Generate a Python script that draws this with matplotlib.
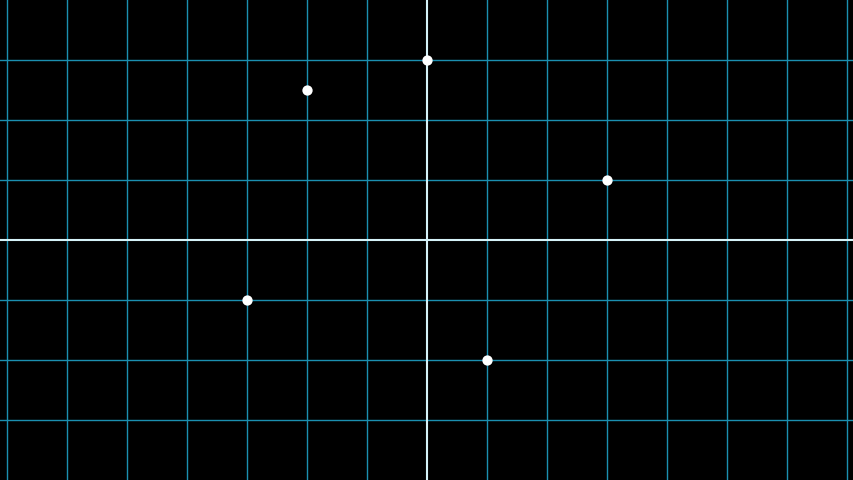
import matplotlib
matplotlib.use("Agg")
import matplotlib.pyplot as plt
import numpy as np

xs = [-2, 0, 3, -3, 1]
ys = [2.5, 3, 1, -1, -2]

fig = plt.figure(figsize=(8.54, 4.80), dpi=100, facecolor="black")
ax = fig.add_axes([0, 0, 1, 1], facecolor="black")
xmin, xmax = -427/60, 427/60
ymin, ymax = -4, 4
ax.set_xlim(xmin, xmax)
ax.set_ylim(ymin, ymax)
for gx in range(-7, 8):
    if gx != 0:
        ax.axvline(gx, color="#1b8fb0", lw=1.0, zorder=1)
for gy in range(-3, 4):
    if gy != 0:
        ax.axhline(gy, color="#1b8fb0", lw=1.0, zorder=1)
ax.axvline(0, color="#d5f2f8", lw=1.5, zorder=2)
ax.axhline(0, color="#d5f2f8", lw=1.5, zorder=2)
ax.scatter(xs, ys, s=55, color="white", zorder=3, linewidths=0)
ax.set_xticks([]); ax.set_yticks([])
for s in ax.spines.values():
    s.set_visible(False)
fig.savefig("out.png", dpi=100, facecolor="black")
